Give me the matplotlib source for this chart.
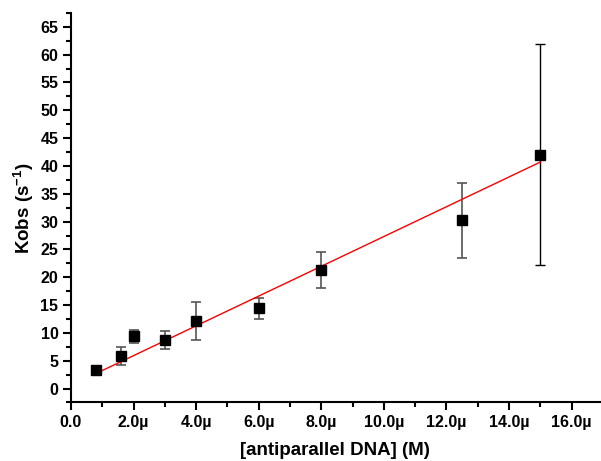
import numpy as np
import matplotlib
matplotlib.use('Agg')
import matplotlib.pyplot as plt
from matplotlib.ticker import MultipleLocator, FuncFormatter

##data
conc_uM = [0.8, 1.6, 2.0, 3.0, 4.0, 6.0, 8.0, 12.5, 15.0]
kobs = [3.3, 5.9, 9.4, 8.7, 12.2, 14.4, 21.3, 30.2, 42.0]
kobs_err = [0.35, 1.6, 1.2, 1.65, 3.4, 1.9, 3.2, 6.8, 19.85]
fit_slope = 2.676e6   # per M
fit_intercept = 0.56

conc = np.array(conc_uM) * 1e-6

plt.rcParams['font.family'] = ['Liberation Sans', 'DejaVu Sans']
plt.rcParams['font.weight'] = 'bold'
plt.rcParams['mathtext.fontset'] = 'custom'
plt.rcParams['mathtext.bf'] = 'Liberation Sans:bold'

fig = plt.figure(figsize=(6.01, 4.61), dpi=100)
ax = fig.add_axes([0.118, 0.127, 0.88, 0.845])

##error bars: grey except the last one
ax.errorbar(conc[:-1], kobs[:-1], yerr=kobs_err[:-1], fmt='none', ecolor='#555555',
            elinewidth=1.2, capsize=3.6, capthick=1.2, zorder=2)
ax.errorbar(conc[-1:], kobs[-1:], yerr=kobs_err[-1:], fmt='none', ecolor='black',
            elinewidth=1.0, capsize=3.6, capthick=1.0, zorder=2)
ax.plot(conc, kobs, 's', color='black', markersize=7, zorder=4)

xfit = np.array([conc[0], conc[-1]])
ax.plot(xfit, fit_slope * xfit + fit_intercept, color='red', lw=1, zorder=3)

ax.set_xlim(0, 16.9e-6)
ax.set_ylim(-2.5, 67.5)
ax.xaxis.set_major_locator(MultipleLocator(2e-6))
ax.xaxis.set_minor_locator(MultipleLocator(1e-6))
ax.yaxis.set_major_locator(MultipleLocator(5))
ax.yaxis.set_minor_locator(MultipleLocator(2.5))

def mu_fmt(v, pos):
    if abs(v) < 1e-12:
        return '0.0'
    return '{:.1f}\u00b5'.format(v * 1e6)
ax.xaxis.set_major_formatter(FuncFormatter(mu_fmt))

for s in ('top', 'right'):
    ax.spines[s].set_visible(False)
for s in ('left', 'bottom'):
    ax.spines[s].set_linewidth(1.5)
ax.tick_params(which='major', length=6, width=1.5, labelsize=11.5, pad=3)
ax.tick_params(which='minor', length=3.5, width=1.5)

ax.set_xlabel('[antiparallel DNA] (M)', fontsize=13.5, fontweight='bold', labelpad=9)
ax.set_ylabel('Kobs (s$^{\\mathbf{-1}}$)', fontsize=13.5, fontweight='bold', labelpad=3)

fig.savefig('out.png', dpi=100)
